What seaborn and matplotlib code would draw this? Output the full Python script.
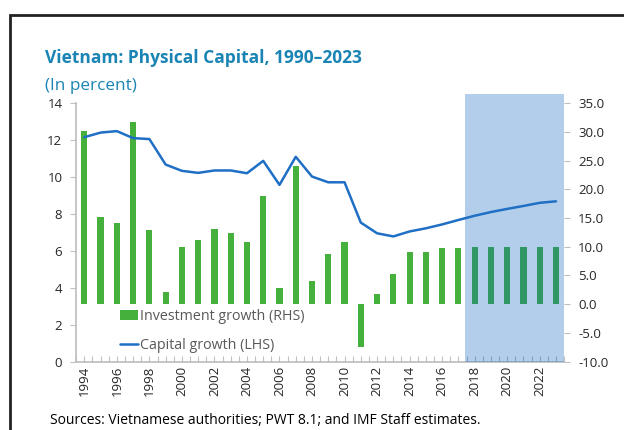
import matplotlib
matplotlib.use('Agg')
import matplotlib.pyplot as plt
import numpy as np
import seaborn as sns
from matplotlib.patches import Rectangle, Patch
from matplotlib.lines import Line2D
from matplotlib.ticker import FixedLocator, FormatStrFormatter

sns.set_theme(style='white')
plt.rcParams['font.family'] = ['Open Sans', 'DejaVu Sans']

# Data
years = [str(y) for y in range(1994, 2024)]
investment_growth = [30.1, 15.1, 14.2, 31.7, 12.9, 2.2, 10.0, 11.2, 13.1, 12.4,
                     10.9, 18.8, 2.9, 24.1, 4.1, 8.7, 10.9, -7.5, 1.8, 5.2,
                     9.0, 9.0, 9.7, 9.8, 10.0, 10.0, 10.0, 10.0, 10.0, 10.0]
capital_growth = [12.15, 12.4, 12.48, 12.1, 12.05, 10.67, 10.33, 10.22, 10.35, 10.35,
                  10.2, 10.87, 9.57, 11.09, 10.02, 9.71, 9.71, 7.53, 6.95, 6.78,
                  7.05, 7.22, 7.43, 7.67, 7.9, 8.1, 8.27, 8.43, 8.6, 8.68]
projection_start = '2018'

green = '#46b03c'
blue = '#1f6fc5'
title_col = '#1a84b4'
grey = '#bfbfbf'

fig = plt.figure(figsize=(6.24, 4.3), dpi=100)
ax_bar = fig.add_axes([0.1221, 0.1588, 0.7819, 0.6016])

# bars on the right-hand scale
sns.barplot(x=years, y=investment_growth, ax=ax_bar, color=green,
            width=0.38, saturation=1, linewidth=0)
ax_bar.set_ylim(-10, 35)
ax_bar.set_yticks(np.arange(-10, 36, 5))
ax_bar.yaxis.set_major_formatter(FormatStrFormatter('%.1f'))
ax_bar.set_xlim(-0.5, len(years) - 0.5)

# projection shading
x0 = years.index(projection_start) - 0.6
ax_bar.axvspan(x0, len(years) - 0.5, ymin=0, ymax=1.035, facecolor='#005dbf',
               alpha=0.3, edgecolor='none', zorder=3, clip_on=False)

# line on the left-hand scale
ax_line = ax_bar.twinx()
sns.lineplot(x=np.arange(len(years)), y=capital_growth, ax=ax_line,
             color=blue, linewidth=1.8)
ax_line.set_ylim(0, 14)
ax_line.set_yticks(np.arange(0, 15, 2))
ax_line.set_xlim(-0.5, len(years) - 0.5)

# swap sides: line scale on the left, bar scale on the right
ax_line.yaxis.tick_left()
ax_line.yaxis.set_label_position('left')
ax_bar.yaxis.tick_right()
ax_bar.yaxis.set_label_position('right')

for s in ['top', 'left', 'right']:
    ax_bar.spines[s].set_visible(False)
for s in ['top', 'right', 'bottom']:
    ax_line.spines[s].set_visible(False)
ax_bar.spines['bottom'].set_color(grey)
ax_line.spines['left'].set_color(grey)

# x ticks: labels every two years, small marks every half category
ax_bar.set_xticks(np.arange(0, len(years), 2))
ax_bar.set_xticklabels(years[::2], rotation=90)
ax_bar.xaxis.set_minor_locator(FixedLocator(np.arange(-0.5, len(years), 0.5)))
ax_bar.tick_params(axis='x', which='both', direction='in', length=4, color=grey,
                   width=0.8, bottom=True, labelsize=9.5, pad=3)
ax_bar.tick_params(axis='y', which='major', direction='out', length=4, color=grey,
                   width=0.8, right=True, left=False, labelright=True,
                   labelleft=False, labelsize=9.5, pad=6)
ax_line.tick_params(axis='y', which='major', direction='out', length=4, color=grey,
                    width=0.8, left=True, right=False, labelleft=True,
                    labelright=False, labelsize=9.5, pad=6)
ax_bar.set_xlabel('')
ax_bar.set_ylabel('')
ax_line.set_ylabel('')

handles = [Patch(facecolor=green, edgecolor='none'),
           Line2D([0], [0], color=blue, linewidth=1.8)]
leg = fig.legend(handles, ['Investment growth (RHS)', 'Capital growth (LHS)'],
                 loc='upper left', bbox_to_anchor=(0.192, 0.282), frameon=False,
                 fontsize=10.3, labelcolor='#595959', handlelength=1.3,
                 handletextpad=0.1, labelspacing=1.0, borderpad=0, borderaxespad=0)

fig.text(0.072, 0.853, 'Vietnam: Physical Capital, 1990\u20132023', fontsize=12.5,
         fontweight='bold', color=title_col, va='baseline')
fig.text(0.072, 0.790, '(In percent)', fontsize=12.3, color=title_col, va='baseline')
fig.text(0.080, 0.014, 'Sources: Vietnamese authorities; PWT 8.1; and IMF Staff estimates.',
         fontsize=10, color='black', va='baseline')

# outer frame
fig.patches.append(Rectangle((0.016, -0.1), 1.1, 1.065, transform=fig.transFigure,
                             fill=False, edgecolor='#222222', linewidth=2))

fig.savefig('out.png', dpi=100)
